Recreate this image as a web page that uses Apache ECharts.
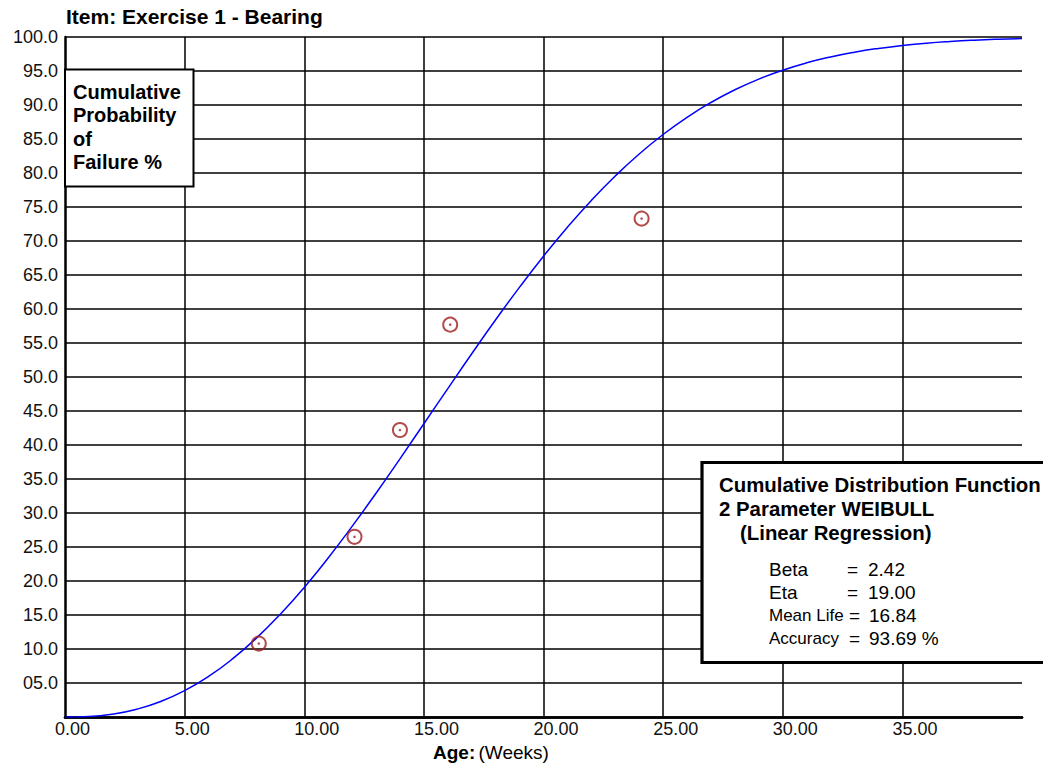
<!DOCTYPE html>
<html>
<head>
<meta charset="utf-8">
<script src="https://cdn.jsdelivr.net/npm/echarts@6/dist/echarts.min.js"></script>
<style>
html,body{margin:0;padding:0;background:#fff;}
#c{width:1043px;height:763px;}
</style>
</head>
<body>
<div id="c"></div>
<script>
// ---- data ----
const curveX = [0,1,2,3,4,5,6,7,8,9,10,11,12,13,14,15,16,17,18,19,20,21,22,23,24,25,26,27,28,29,30,31,32,33,34,35,36,37,38,39,40];
const curveY = [0,0.08,0.43,1.14,2.28,3.88,5.96,8.54,11.60,15.12,19.06,23.39,28.03,32.91,37.97,43.13,48.30,53.42,58.41,63.21,67.77,72.03,75.97,79.56,82.80,85.67,88.19,90.37,92.24,93.81,95.12,96.20,97.07,97.77,98.32,98.75,99.09,99.34,99.53,99.67,99.77];
const pointX = [8.1, 12.1, 14.0, 16.1, 24.1];
const pointY = [10.8, 26.5, 42.2, 57.7, 73.3];
const xTickLabels = ['0.00','5.00','10.00','15.00','20.00','25.00','30.00','35.00'];
const yTickLabels = ['','05.0','10.0','15.0','20.0','25.0','30.0','35.0','40.0','45.0','50.0','55.0','60.0','65.0','70.0','75.0','80.0','85.0','90.0','95.0','100.0'];
const titleText = 'Item: Exercise 1 - Bearing';
const yNameLines = ['Cumulative','Probability','of','Failure %'];
const boxHeader = ['Cumulative Distribution Function','2 Parameter WEIBULL','(Linear Regression)'];
const statLabels = ['Beta','Eta','Mean Life','Accuracy'];
const statValues = ['2.42','19.00','16.84','93.69 %'];

const FONT = '"Liberation Sans", Arial, sans-serif';
const chart = echarts.init(document.getElementById('c'), null, {renderer:'svg'});

const curveData = curveX.map((x,i)=>[x,curveY[i]]);
const pointData = pointX.map((x,i)=>[x,pointY[i]]);

const graphics = [];
graphics.push({type:'text', left:66, top:6, z:100, style:{text:titleText, font:'bold 21px '+FONT, fill:'#000'}});
// upper-left label box
graphics.push({type:'rect', z:100, shape:{x:65, y:69.5, width:128.5, height:117}, style:{fill:'#fff', stroke:'#000', lineWidth:2}});
yNameLines.forEach((t,i)=>{
  graphics.push({type:'text', z:101, x:73, y:92+i*23.3, style:{text:t, font:'bold 20px '+FONT, fill:'#000', textVerticalAlign:'middle', textAlign:'left'}});
});
// lower-right stats box
graphics.push({type:'rect', z:100, shape:{x:702, y:462.5, width:400, height:200}, style:{fill:'#fff', stroke:'#000', lineWidth:3.2}});
const hx = [719,719,740];
boxHeader.forEach((t,i)=>{
  graphics.push({type:'text', z:101, x:hx[i], y:485+i*24, style:{text:t, font:'bold 20.4px '+FONT, fill:'#000', textVerticalAlign:'middle'}});
});
const eqX = [847,847,849,849];
const valX = [868,868,869,869];
const labFont = ['19px ','19px ','17px ','17px '];
statLabels.forEach((t,i)=>{
  const y = 569+i*23.3;
  graphics.push({type:'text', z:101, x:769, y:y, style:{text:t, font:labFont[i]+FONT, fill:'#000', textVerticalAlign:'middle'}});
  graphics.push({type:'text', z:101, x:eqX[i], y:y, style:{text:'=', font:'19px '+FONT, fill:'#000', textVerticalAlign:'middle'}});
  graphics.push({type:'text', z:101, x:valX[i], y:y, style:{text:statValues[i], font:'19px '+FONT, fill:'#000', textVerticalAlign:'middle'}});
});
// axis name
graphics.push({type:'text', z:101, x:433, y:752, style:{
  text:'{b|Age:} {r|(Weeks)}', textVerticalAlign:'middle',
  rich:{b:{font:'bold 19px '+FONT, fill:'#000'}, r:{font:'19px '+FONT, fill:'#000'}}
}});

chart.setOption({
  animation:false,
  backgroundColor:'#fff',
  grid:{left:65, right:21, top:37, bottom:46, containLabel:false},
  xAxis:[{
    type:'value', min:0, max:40, interval:5,
    axisLine:{show:true, onZero:false, lineStyle:{color:'#000', width:2.5}},
    axisTick:{show:false},
    axisLabel:{
      formatter:(v)=>{const k=Math.round(v/5); return (Math.abs(v-k*5)<1e-6 && xTickLabels[k]!==undefined)?xTickLabels[k]:'';},
      color:'#111', fontFamily:FONT, fontSize:18, margin:3, align:'left', padding:[0,0,0,-10],
      showMaxLabel:false
    },
    splitLine:{show:true, showMinLine:false, showMaxLine:false, lineStyle:{color:'#000', width:1.5}}
  },{
    type:'value', position:'top', min:0, max:40,
    axisLine:{show:true, lineStyle:{color:'#000', width:2.5}},
    axisTick:{show:false}, axisLabel:{show:false}, splitLine:{show:false}
  }],
  yAxis:{
    type:'value', min:0, max:100, interval:5,
    axisLine:{show:true, lineStyle:{color:'#000', width:2.5}},
    axisTick:{show:false},
    axisLabel:{
      formatter:(v)=>{const k=Math.round(v/5); return yTickLabels[k]!==undefined?yTickLabels[k]:'';},
      color:'#111', fontFamily:FONT, fontSize:18, margin:7
    },
    splitLine:{show:true, showMinLine:false, lineStyle:{color:'#000', width:1.5}}
  },
  series:[
    {type:'line', data:curveData, showSymbol:false, smooth:true,
     lineStyle:{color:'#0000ff', width:1.5}, z:3},
    {type:'scatter', data:pointData, symbol:'circle', symbolSize:14,
     itemStyle:{color:'rgba(0,0,0,0)', borderColor:'#a01e1e', borderWidth:2}, z:4},
    {type:'scatter', data:pointData, symbol:'circle', symbolSize:2.5,
     itemStyle:{color:'#a01e1e'}, z:5}
  ],
  graphic:graphics
});
</script>
</body>
</html>
